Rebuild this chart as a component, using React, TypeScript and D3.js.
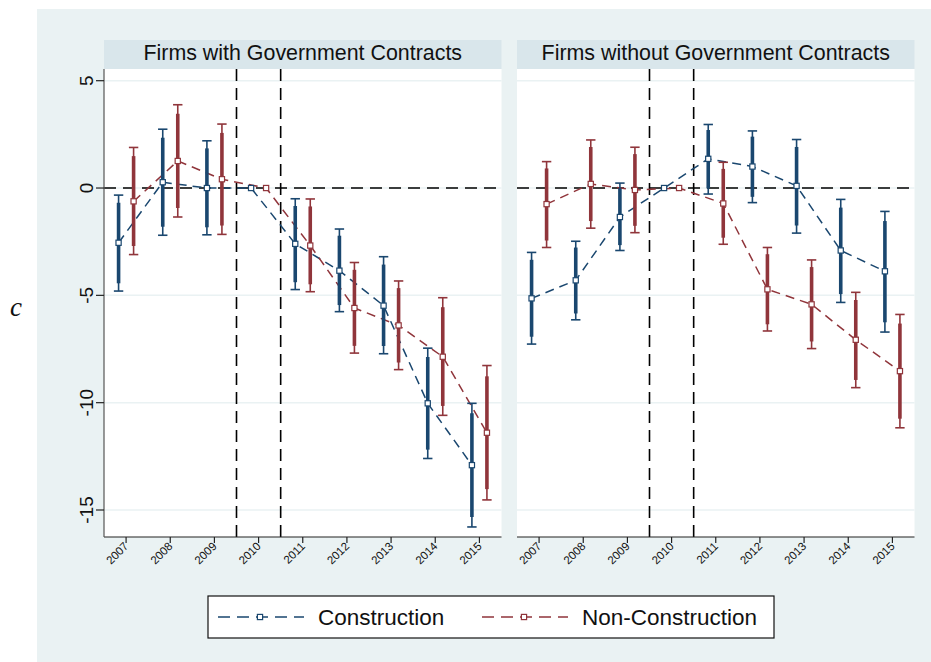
import React from "react";
import * as d3 from "d3";

const years = [2007, 2008, 2009, 2010, 2011, 2012, 2013, 2014, 2015];
const panelTitles = ["Firms with Government Contracts", "Firms without Government Contracts"];
const seriesNames = ["Construction", "Non-Construction"];
const yTicks = [5, 0, -5, -10, -15];
const refYears = [2009.5, 2010.5];

// Panel 1: Firms with Government Contracts
const govConEst = [-2.55, 0.27, 0.0, 0, -2.6, -3.85, -5.48, -10.03, -12.91];
const govConLo = [-4.8, -2.2, -2.18, 0, -4.73, -5.76, -7.72, -12.6, -15.79];
const govConHi = [-0.33, 2.74, 2.2, 0, -0.5, -1.91, -3.2, -7.46, -10.03];
const govNonEst = [-0.62, 1.26, 0.41, 0, -2.68, -5.59, -6.4, -7.86, -11.4];
const govNonLo = [-3.1, -1.35, -2.16, 0, -4.83, -7.69, -8.46, -10.59, -14.53];
const govNonHi = [1.89, 3.88, 2.98, 0, -0.51, -3.47, -4.33, -5.11, -8.27];

// Panel 2: Firms without Government Contracts
const noGovConEst = [-5.14, -4.3, -1.35, 0, 1.36, 1.0, 0.1, -2.91, -3.88];
const noGovConLo = [-7.27, -6.14, -2.91, 0, -0.28, -0.68, -2.1, -5.33, -6.71];
const noGovConHi = [-3.0, -2.48, 0.23, 0, 2.96, 2.66, 2.26, -0.53, -1.09];
const noGovNonEst = [-0.75, 0.19, -0.09, 0, -0.72, -4.72, -5.42, -7.07, -8.53];
const noGovNonLo = [-2.77, -1.87, -2.08, 0, -2.62, -6.66, -7.48, -9.3, -11.17];
const noGovNonHi = [1.23, 2.24, 1.9, 0, 1.2, -2.77, -3.35, -4.86, -5.89];

const COLORS = ["#1A476F", "#90353B"];
const OFFSETS = [-0.17, 0.17];
const OUTER_BG = "#EAF2F3";
const STRIP_BG = "#D9E6EB";
const FONT = "'Liberation Sans', Arial, Helvetica, sans-serif";
const RATIO90 = 1.645 / 1.96;

type Series = { est: number[]; lo: number[]; hi: number[] };

const panels: { title: string; series: Series[]; x0: number; x1: number; yAxis: boolean }[] = [
  {
    title: panelTitles[0],
    series: [
      { est: govConEst, lo: govConLo, hi: govConHi },
      { est: govNonEst, lo: govNonLo, hi: govNonHi },
    ],
    x0: 104,
    x1: 501.5,
    yAxis: true,
  },
  {
    title: panelTitles[1],
    series: [
      { est: noGovConEst, lo: noGovConLo, hi: noGovConHi },
      { est: noGovNonEst, lo: noGovNonLo, hi: noGovNonHi },
    ],
    x0: 517,
    x1: 914.5,
    yAxis: false,
  },
];

const PLOT_TOP = 69;
const PLOT_BOTTOM = 537;
const STRIP_TOP = 40;

const y = d3.scaleLinear().domain([5, -15]).range([80.7, 510]);

function Panel({ p }: { p: (typeof panels)[number] }) {
  const x = d3.scaleLinear().domain([2006.5, 2015.5]).range([p.x0, p.x1]);
  const cx = (p.x0 + p.x1) / 2;
  return (
    <g>
      <rect x={p.x0} y={STRIP_TOP} width={p.x1 - p.x0} height={PLOT_TOP - STRIP_TOP} fill={STRIP_BG} />
      <text x={cx} y={60} textAnchor="middle" fontFamily={FONT} fontSize={21.4} fill="#111">
        {p.title}
      </text>
      <rect x={p.x0} y={PLOT_TOP} width={p.x1 - p.x0} height={PLOT_BOTTOM - PLOT_TOP} fill="#fff" />
      {yTicks.map((t) => (
        <line key={"g" + t} x1={p.x0} x2={p.x1} y1={y(t)} y2={y(t)} stroke={OUTER_BG} strokeWidth={1.5} />
      ))}
      <line x1={p.x0} x2={p.x1} y1={y(0)} y2={y(0)} stroke="#000" strokeWidth={1.4} strokeDasharray="12,7" />
      {refYears.map((r) => (
        <line key={"r" + r} x1={x(r)} x2={x(r)} y1={PLOT_TOP} y2={PLOT_BOTTOM} stroke="#000" strokeWidth={1.6} strokeDasharray="12,7" />
      ))}
      {p.series.map((s, si) => {
        const line = d3
          .line<number>()
          .x((_, i) => x(years[i] + OFFSETS[si]))
          .y((v) => y(v));
        return <path key={"l" + si} d={line(s.est) || ""} fill="none" stroke={COLORS[si]} strokeWidth={1.5} strokeDasharray="9,6" />;
      })}
      {p.series.map((s, si) =>
        years.map((yr, i) => {
          if (s.lo[i] === s.hi[i]) return null;
          const xx = x(yr + OFFSETS[si]);
          const e = s.est[i];
          const lo90 = e - (e - s.lo[i]) * RATIO90;
          const hi90 = e + (s.hi[i] - e) * RATIO90;
          return (
            <g key={"e" + si + "-" + i} stroke={COLORS[si]}>
              <line x1={xx} x2={xx} y1={y(s.lo[i])} y2={y(s.hi[i])} strokeWidth={1.6} />
              <line x1={xx - 4.7} x2={xx + 4.7} y1={y(s.lo[i])} y2={y(s.lo[i])} strokeWidth={1.6} />
              <line x1={xx - 4.7} x2={xx + 4.7} y1={y(s.hi[i])} y2={y(s.hi[i])} strokeWidth={1.6} />
              <line x1={xx} x2={xx} y1={y(lo90)} y2={y(hi90)} strokeWidth={3.6} />
            </g>
          );
        })
      )}
      {p.series.map((s, si) =>
        years.map((yr, i) => (
          <rect
            key={"m" + si + "-" + i}
            x={x(yr + OFFSETS[si]) - 2.6}
            y={y(s.est[i]) - 2.6}
            width={5.2}
            height={5.2}
            fill="#fff"
            stroke={COLORS[si]}
            strokeWidth={1.2}
          />
        ))
      )}
      <line x1={p.x0} x2={p.x1} y1={PLOT_BOTTOM} y2={PLOT_BOTTOM} stroke="#222" strokeWidth={1.2} />
      {years.map((yr) => (
        <g key={"xt" + yr}>
          <line x1={x(yr)} x2={x(yr)} y1={PLOT_BOTTOM} y2={PLOT_BOTTOM + 6} stroke="#222" strokeWidth={1.2} />
          <text
            transform={`translate(${x(yr) + 3},${PLOT_BOTTOM + 10}) rotate(-45)`}
            textAnchor="end"
            fontFamily={FONT}
            fontSize={11.5}
            fill="#111"
          >
            {yr}
          </text>
        </g>
      ))}
      {p.yAxis && (
        <g>
          <line x1={p.x0} x2={p.x0} y1={PLOT_TOP} y2={PLOT_BOTTOM} stroke="#555" strokeWidth={1.2} />
          {yTicks.map((t) => (
            <g key={"yt" + t}>
              <line x1={p.x0 - 8} x2={p.x0} y1={y(t)} y2={y(t)} stroke="#222" strokeWidth={1.2} />
              <text
                transform={`translate(${p.x0 - 18},${y(t)}) rotate(-90)`}
                textAnchor="middle"
                dy="0.35em"
                fontFamily={FONT}
                fontSize={19}
                fill="#111"
              >
                {t}
              </text>
            </g>
          ))}
        </g>
      )}
    </g>
  );
}

function LegendItem({ x0, si }: { x0: number; si: number }) {
  const ly = 617;
  return (
    <g>
      <line x1={x0} x2={x0 + 86} y1={ly} y2={ly} stroke={COLORS[si]} strokeWidth={1.6} strokeDasharray="12,7" />
      <rect x={x0 + 42 - 2.6} y={ly - 2.6} width={5.2} height={5.2} fill="#fff" stroke={COLORS[si]} strokeWidth={1.2} />
      <text x={x0 + 100} y={ly + 8} fontFamily={FONT} fontSize={22.5} fill="#111">
        {seriesNames[si]}
      </text>
    </g>
  );
}

export default function App() {
  return (
    <svg width={931} height={662} style={{ position: "absolute", left: 0, top: 0, background: "#fff" }}>
      <rect x={37} y={9} width={894} height={653} fill={OUTER_BG} />
      {panels.map((p, i) => (
        <Panel key={i} p={p} />
      ))}
      <text x={16} y={316} textAnchor="middle" fontFamily="'Liberation Serif', 'DejaVu Serif', serif" fontStyle="italic" fontSize={27} fill="#111">
        c
      </text>
      <rect x={208} y={596} width={566} height={42} fill="#fff" stroke="#111" strokeWidth={1.2} />
      <LegendItem x0={218} si={0} />
      <LegendItem x0={482} si={1} />
    </svg>
  );
}
